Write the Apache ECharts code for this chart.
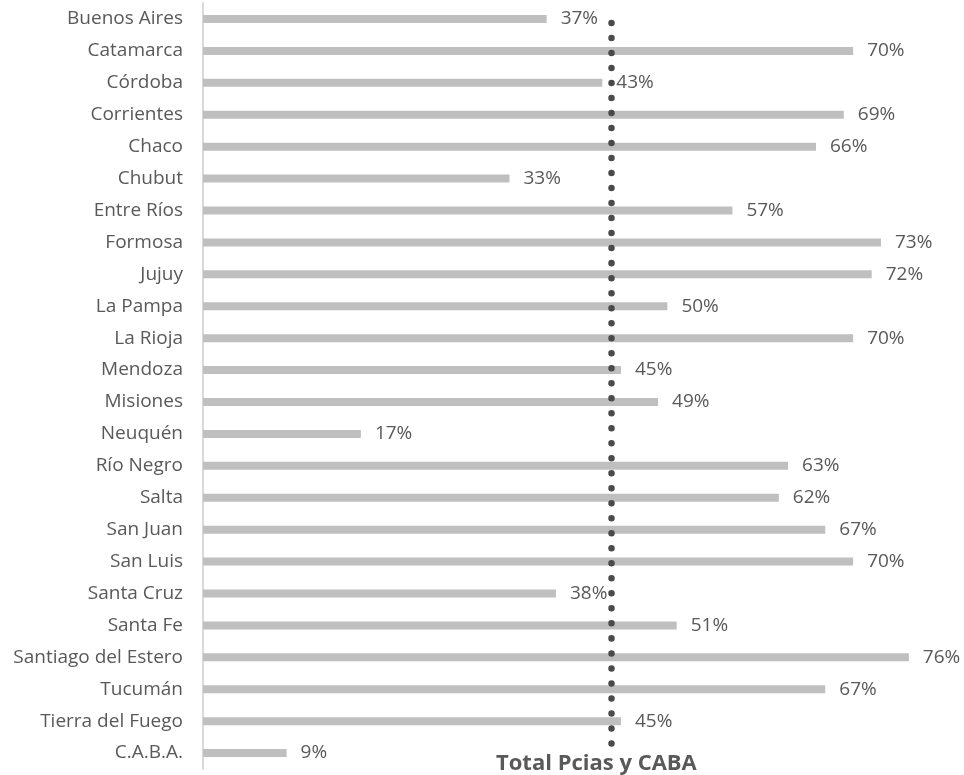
<!DOCTYPE html>
<html>
<head>
<meta charset="utf-8">
<script src="https://cdn.jsdelivr.net/npm/echarts@6/dist/echarts.min.js"></script>
<style>
html,body{margin:0;padding:0;background:#fff;}
#chart{width:964px;height:775px;}
</style>
</head>
<body>
<div id="chart"></div>
<script>
const categories = ["Buenos Aires","Catamarca","Córdoba","Corrientes","Chaco","Chubut","Entre Ríos","Formosa","Jujuy","La Pampa","La Rioja","Mendoza","Misiones","Neuquén","Río Negro","Salta","San Juan","San Luis","Santa Cruz","Santa Fe","Santiago del Estero","Tucumán","Tierra del Fuego","C.A.B.A."];
const values = [37,70,43,69,66,33,57,73,72,50,70,45,49,17,63,62,67,70,38,51,76,67,45,9];
const totalValue = 44;
const totalLabel = "Total Pcias y CABA";

const chart = echarts.init(document.getElementById('chart'));
chart.setOption({
  animation: false,
  title: {
    text: totalLabel,
    left: 491,
    top: 748,
    textStyle: {fontFamily: 'Open Sans', fontWeight: 'bold', fontSize: 22, color: '#595959'}
  },
  grid: {left: 203, right: 18, top: 3, bottom: 6, containLabel: false},
  xAxis: {
    type: 'value', min: 0, max: 80,
    axisLine: {show: false}, axisTick: {show: false},
    axisLabel: {show: false}, splitLine: {show: false}
  },
  yAxis: {
    type: 'category', data: categories, inverse: true,
    axisLine: {show: true, lineStyle: {color: '#d9d9d9', width: 2}},
    axisTick: {show: false},
    axisLabel: {fontFamily: 'Open Sans', fontSize: 19, color: '#595959', margin: 20}
  },
  series: [{
    type: 'bar',
    data: values,
    barWidth: 8,
    itemStyle: {color: '#bfbfbf'},
    label: {
      show: true, position: 'right', distance: 14,
      formatter: p => p.value + '%',
      fontFamily: 'Open Sans', fontSize: 19, color: '#595959'
    },
    markLine: {
      silent: true,
      symbol: 'none',
      label: {show: false},
      lineStyle: {color: '#4a4a4a', width: 6.5, type: [0.01, 15], dashOffset: -4, cap: 'round'},
      data: [[{coord: [totalValue, categories[0]]}, {coord: [totalValue, categories[categories.length - 1]]}]]
    }
  }]
});
</script>
</body>
</html>
